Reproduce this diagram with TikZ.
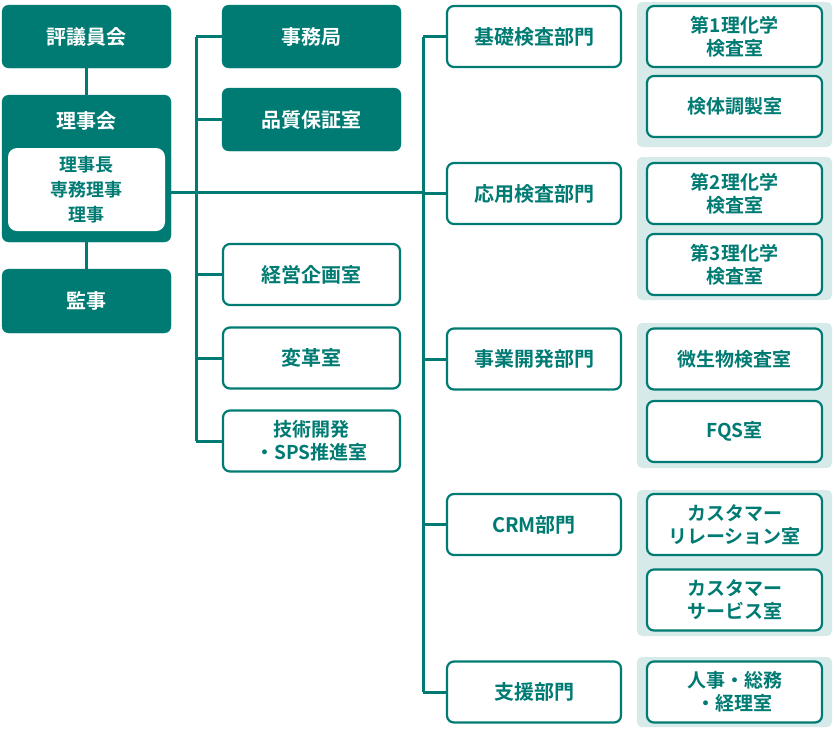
\documentclass[tikz,border=0pt]{standalone}
\usepackage{fontspec}
\setmainfont{Noto Sans CJK JP}[BoldFont={* Bold}]
\begin{document}
\definecolor{tl}{HTML}{007B73}
\definecolor{lg}{HTML}{D5EAE9}
\begin{tikzpicture}[x=1pt,y=-1pt,
 dk/.style={fill=tl,draw=tl,rounded corners=7pt,text=white,font=\fontsize{20}{24}\selectfont\bfseries,align=center},
 wt/.style={fill=white,draw=tl,line width=2.2pt,rounded corners=7pt,text=tl,font=\fontsize{20}{24}\selectfont\bfseries,align=center},
 grp/.style={fill=lg,draw=none,rounded corners=5pt},
 ln/.style={draw=tl,line width=3pt}]
\useasboundingbox (0,0) rectangle (833,732);
% groups
\fill[grp] (637,2) rectangle (832,147);
\fill[grp] (637,157) rectangle (832,300);
\fill[grp] (637,323) rectangle (832,468);
\fill[grp] (637,490) rectangle (832,636);
\fill[grp] (637,657) rectangle (832,727);
% lines
\coordinate (v1t) at (196,37); \coordinate (v1b) at (196,441);
\coordinate (v2t) at (423,37); \coordinate (v2b) at (423,692);
\draw[ln] (v1t) -- (v1b);
\draw[ln] (v2t) -- (v2b);
% left nodes
\node[dk,minimum width=169,minimum height=63] (hyo) at (86.5,36.5) {評議員会};
\node[dk,minimum width=169,minimum height=147] (rij) at (86.5,168.5) {};
\node[text=white,font=\fontsize{20}{24}\selectfont\bfseries] (rijt) at (86.5,121) {理事会};
\node[fill=white,rounded corners=9pt,minimum width=157,minimum height=83,text=tl,align=center,font=\fontsize{18}{25}\selectfont\bfseries] (rijin) at (86.5,189.5) {理事長\\専務理事\\理事};
\node[dk,minimum width=169,minimum height=64] (kan) at (86.5,301) {監事};
\draw[ln] (hyo) -- (rij);
\draw[ln] (rij) -- (kan);
\coordinate (hj) at (423,192);
\draw[ln] (rij.east|-hj) -- (hj);
% middle
\node[dk,minimum width=179,minimum height=63] (jim) at (311.5,36.5) {事務局};
\node[dk,minimum width=179,minimum height=63] (hin) at (311.5,119.5) {品質保証室};
\node[wt,minimum width=177,minimum height=61] (kei) at (311.5,274.5) {経営企画室};
\node[wt,minimum width=177,minimum height=61] (hen) at (311.5,358) {変革室};
\node[wt,minimum width=177,minimum height=61,font=\fontsize{19}{23}\selectfont\bfseries] (gij) at (311.5,441) {技術開発\\・SPS推進室};
\foreach \n in {jim,hin,kei,hen,gij} \draw[ln] (\n.west) -- (\n.west -| v1t);
% departments
\node[wt,minimum width=174,minimum height=61] (d1) at (534,36.5) {基礎検査部門};
\node[wt,minimum width=174,minimum height=61] (d2) at (534,193.5) {応用検査部門};
\node[wt,minimum width=174,minimum height=61] (d3) at (534,359) {事業開発部門};
\node[wt,minimum width=174,minimum height=61] (d4) at (534,524.5) {CRM部門};
\node[wt,minimum width=174,minimum height=61] (d5) at (534,692) {支援部門};
\foreach \n in {d1,d2,d3,d4,d5} \draw[ln] (\n.west) -- (\n.west -| v2t);
% sub
\tikzset{sb/.style={wt,minimum width=175,minimum height=61,font=\fontsize{19}{23}\selectfont\bfseries}}
\node[sb] (s1) at (734.5,36.5) {第1理化学\\検査室};
\node[sb] (s2) at (734.5,106.5) {検体調製室};
\node[sb] (s3) at (734.5,193.5) {第2理化学\\検査室};
\node[sb] (s4) at (734.5,264.5) {第3理化学\\検査室};
\node[sb] (s5) at (734.5,359) {微生物検査室};
\node[sb] (s6) at (734.5,431.5) {FQS室};
\node[sb] (s7) at (734.5,524.5) {カスタマー\\リレーション室};
\node[sb] (s8) at (734.5,600) {カスタマー\\サービス室};
\node[sb] (s9) at (734.5,692) {人事・総務\\・経理室};
\end{tikzpicture}
\end{document}
